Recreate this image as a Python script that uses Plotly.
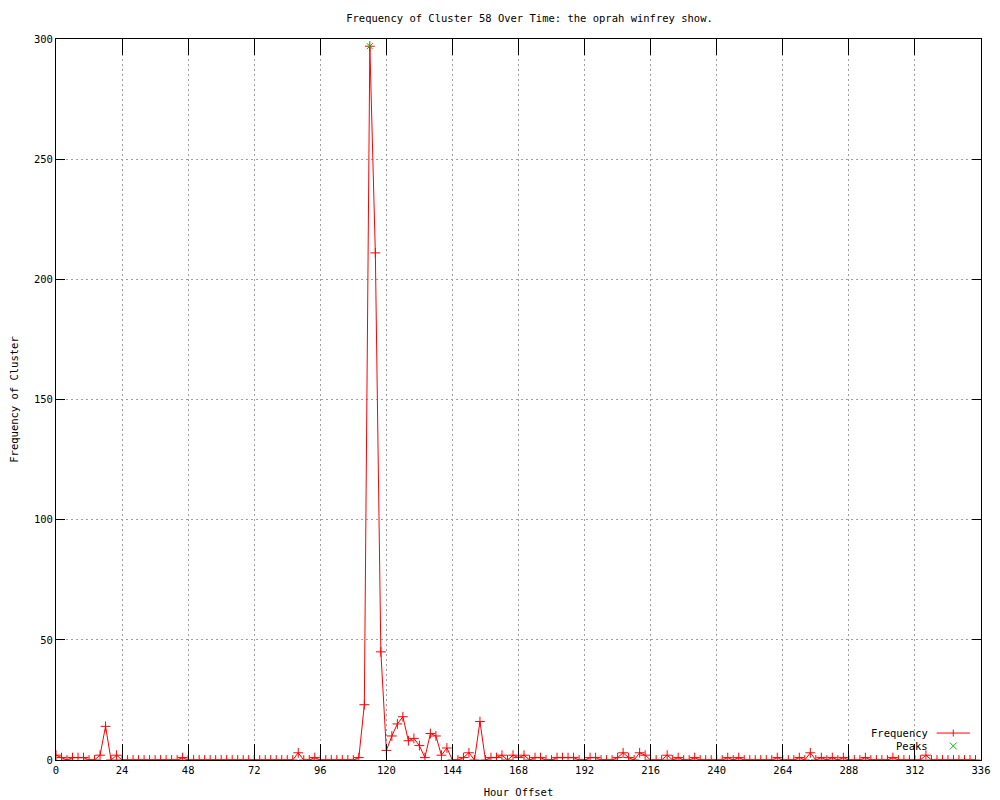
import plotly.graph_objects as go

# hour offsets sampled every 2 hours, 0..334
hours = list(range(0, 336, 2))

# cluster frequency per 2-hour bin (one row = 24 hours)
frequency = [
    2, 1, 0, 1, 1, 1, 0, 0, 2, 14, 0, 2,
    0, 0, 0, 0, 0, 0, 0, 0, 0, 0, 0, 1,
    0, 0, 0, 0, 0, 0, 0, 0, 0, 0, 0, 0,
    0, 0, 0, 0, 0, 0, 0, 0, 3, 0, 0, 1,
    0, 0, 0, 0, 0, 0, 0, 1, 23, 297, 211, 45,
    4, 10, 15, 18, 8, 9, 6, 1, 11, 10, 2, 5,
    0, 0, 1, 3, 0, 16, 0, 1, 1, 2, 0, 2,
    1, 2, 0, 1, 1, 0, 0, 1, 1, 1, 1, 0,
    0, 1, 1, 0, 0, 0, 1, 3, 1, 0, 3, 2,
    0, 0, 0, 2, 0, 1, 0, 0, 1, 0, 0, 0,
    0, 0, 1, 0, 1, 0, 0, 0, 0, 0, 0, 1,
    0, 0, 0, 1, 0, 3, 0, 1, 0, 1, 0, 1,
    0, 0, 0, 1, 0, 0, 0, 0, 1, 0, 0, 0,
    0, 0, 2, 0, 0, 0, 0, 0, 0, 0, 0, 0,
]

peak_hours = [114]
peak_values = [297]

x_ticks = list(range(0, 337, 24))
y_ticks = list(range(0, 301, 50))

FONT = "DejaVu Sans Mono, Liberation Mono, monospace"
RED = "#ff0000"
GREEN = "#00c000"
GRID = "#a0a0a0"

fig = go.Figure()

fig.add_trace(go.Scatter(
    x=hours, y=frequency,
    mode="lines+markers",
    line=dict(color=RED, width=1),
    marker=dict(symbol="cross-thin", size=7, line=dict(color=RED, width=1)),
    showlegend=False,
))

fig.add_trace(go.Scatter(
    x=peak_hours, y=peak_values,
    mode="markers",
    marker=dict(symbol="x-thin", size=6, line=dict(color=GREEN, width=1)),
    showlegend=False,
))

# gnuplot-style key (text on the left, sample on the right), in paper coords
KEY_X0, KEY_X1, KEY_XM = 0.952, 0.988, 0.970
KEY_Y1, KEY_Y2 = 0.0374, 0.0194
dx, dy = 3.5 / 925, 3.5 / 721
key_shapes = [
    dict(type="line", xref="paper", yref="paper", x0=KEY_X0, x1=KEY_X1, y0=KEY_Y1, y1=KEY_Y1,
         line=dict(color=RED, width=1)),
    dict(type="line", xref="paper", yref="paper", x0=KEY_XM, x1=KEY_XM,
         y0=KEY_Y1 - dy, y1=KEY_Y1 + dy, line=dict(color=RED, width=1)),
    dict(type="line", xref="paper", yref="paper", x0=KEY_XM - dx, x1=KEY_XM + dx,
         y0=KEY_Y2 - dy, y1=KEY_Y2 + dy, line=dict(color=GREEN, width=1)),
    dict(type="line", xref="paper", yref="paper", x0=KEY_XM - dx, x1=KEY_XM + dx,
         y0=KEY_Y2 + dy, y1=KEY_Y2 - dy, line=dict(color=GREEN, width=1)),
]

annotations = [
    dict(text="Frequency", x=0.945, y=KEY_Y1, xref="paper", yref="paper",
         xanchor="right", yanchor="middle", showarrow=False,
         font=dict(family=FONT, size=10.5, color="black")),
    dict(text="Peaks", x=0.945, y=KEY_Y2, xref="paper", yref="paper",
         xanchor="right", yanchor="middle", showarrow=False,
         font=dict(family=FONT, size=10.5, color="black")),
]

axis_common = dict(
    showline=True, linecolor="black", linewidth=1, mirror="allticks",
    ticks="inside", tickwidth=1, tickcolor="black",
    showgrid=True, gridcolor=GRID, gridwidth=1, griddash="2px,3px",
    zeroline=False, automargin=False,
    tickfont=dict(family=FONT, size=10.5, color="black"),
)

# page body has an 8px margin, so the plot box is placed 8px up/left of the target
fig.update_layout(
    width=1000, height=800,
    paper_bgcolor="white", plot_bgcolor="white",
    margin=dict(l=48, r=27, t=31, b=48),
    font=dict(family=FONT, size=10.5, color="black"),
    title=dict(
        text="Frequency of Cluster 58 Over Time: the oprah winfrey show.",
        x=0.5215, xanchor="center", xref="container",
        y=1 - 10 / 800, yanchor="middle", yref="container",
        font=dict(family=FONT, size=10.5, color="black"),
        automargin=False,
    ),
    xaxis=dict(
        range=[0, 336], tickvals=x_ticks, ticklen=16,
        title=dict(text="Hour Offset", standoff=14, font=dict(family=FONT, size=10.5)),
        **axis_common,
    ),
    yaxis=dict(
        range=[0, 300], tickvals=y_ticks, ticklen=9,
        title=dict(text="Frequency of Cluster", standoff=14, font=dict(family=FONT, size=10.5)),
        **axis_common,
    ),
    shapes=key_shapes,
    annotations=annotations,
)

fig.write_html("out.html")
